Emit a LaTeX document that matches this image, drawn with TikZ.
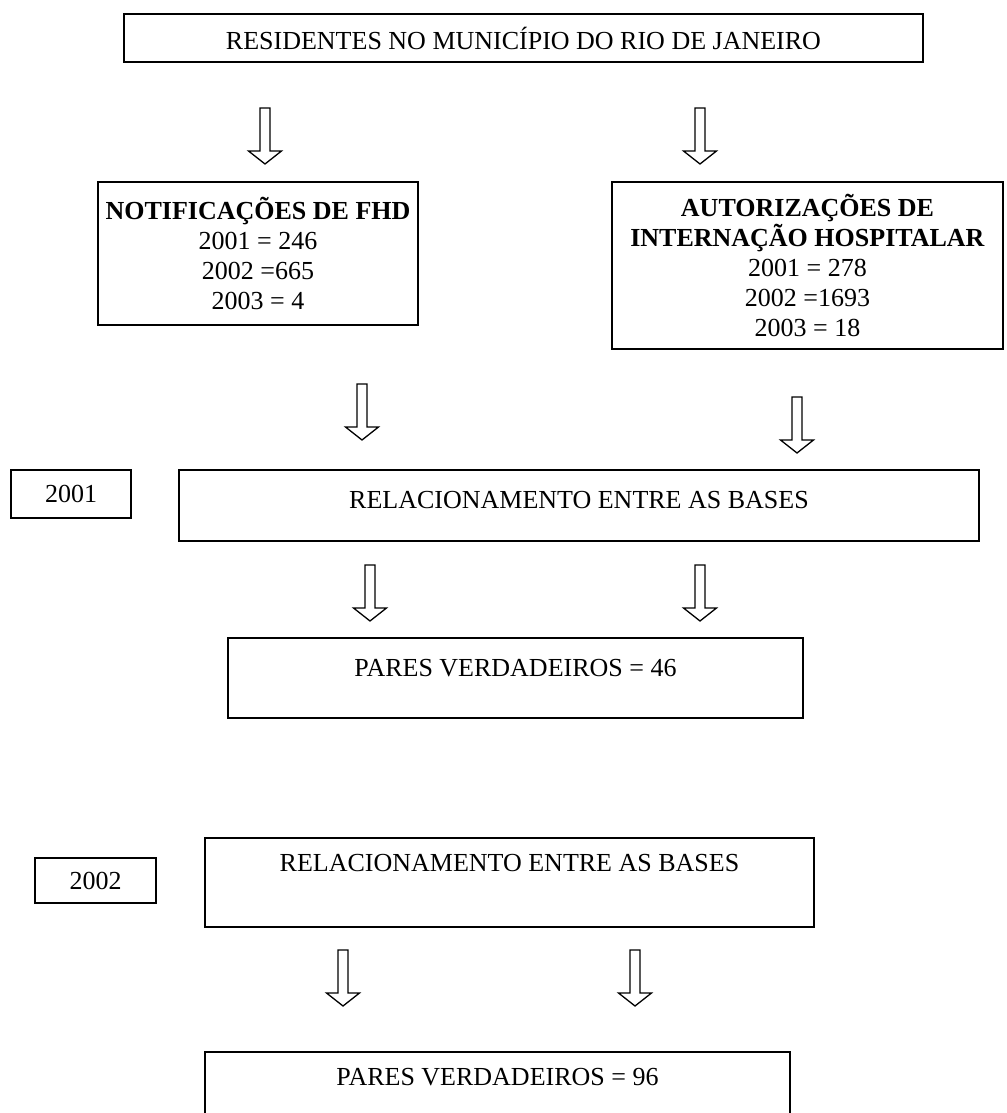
\documentclass[tikz,border=0pt]{standalone}
\usepackage{fontspec}
\setmainfont{Liberation Serif}
\usetikzlibrary{positioning}

\begin{document}
\begin{tikzpicture}[
    x=1pt, y=-1pt,
    % estilos
    font=\fontsize{26}{30}\selectfont,
    caixa/.style={draw, line width=1.6pt, rectangle, inner sep=0pt, align=center},
    sobe/.style={text height=17pt, text depth=#1},
    seta/.pic={\draw[line width=1.3pt] (-5,0) -- (5,0) -- (5,43) -- (16.5,43)
        -- (0,56) -- (-16.5,43) -- (-5,43) -- cycle;}
]
    \useasboundingbox (0,0) rectangle (1006,1113);

    % ---------------------------------------------------------
    % 1. Populacao e bases
    % ---------------------------------------------------------
    \node[caixa, minimum width=799pt, minimum height=48pt] (residentes) at (523.5,38)
        {RESIDENTES NO MUNICÍPIO DO RIO DE JANEIRO};

    \node[caixa, minimum width=320pt, minimum height=143pt] (sinan) at (258,253.5)
        {\textbf{NOTIFICAÇÕES DE FHD}\\2001 = 246\\2002 =665\\2003 = 4};

    \node[caixa, minimum width=391pt, minimum height=167pt] (aih) at (807.5,265.5)
        {\textbf{AUTORIZAÇÕES DE}\\\textbf{INTERNAÇÃO HOSPITALAR}\\2001 = 278\\2002 =1693\\2003 = 18};

    % ---------------------------------------------------------
    % 2. Relacionamento 2001
    % ---------------------------------------------------------
    \node[caixa, minimum width=120pt, minimum height=48pt] (ano1) at (71,494) {2001};
    \node[caixa, sobe=12pt, minimum width=800pt, minimum height=71pt] (rel1) at (579,505.5)
        {RELACIONAMENTO ENTRE AS BASES};
    \node[caixa, sobe=20pt, minimum width=575pt, minimum height=80pt] (pares1) at (515.5,678)
        {PARES VERDADEIROS = 46};

    % ---------------------------------------------------------
    % 3. Relacionamento 2002
    % ---------------------------------------------------------
    \node[caixa, minimum width=121pt, minimum height=45pt] (ano2) at (95.5,880.5) {2002};
    \node[caixa, sobe=40pt, minimum width=609pt, minimum height=89pt] (rel2) at (509.5,882.5)
        {RELACIONAMENTO ENTRE AS BASES};
    \node[caixa, sobe=30pt, minimum width=585pt, minimum height=80pt] (pares2) at (497.5,1092)
        {PARES VERDADEIROS = 96};

    % setas
    \foreach \x/\y in {265/108, 700/108, 362/384, 797/397, 370/565, 700/565, 343/950, 635/950}
        \pic at (\x,\y) {seta};
\end{tikzpicture}
\end{document}
